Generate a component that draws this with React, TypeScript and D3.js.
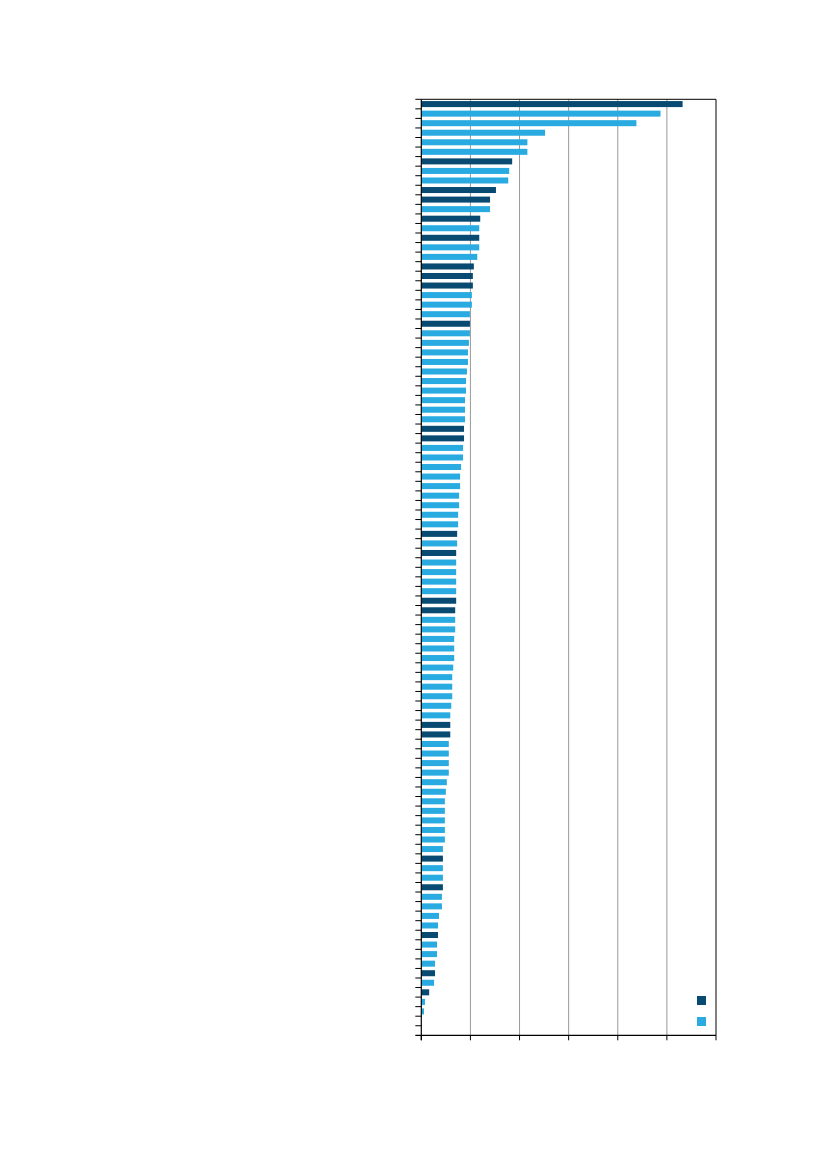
import * as d3 from "d3";

// series: "a" = dark blue, "b" = light blue, "" = empty slot
const SERIES: string[] = [
  "a", "b", "b", "b", "b", "b", "a", "b", "b", "a",
  "a", "b", "a", "b", "a", "b", "b", "a", "a", "a",
  "b", "b", "b", "a", "b", "b", "b", "b", "b", "b",
  "b", "b", "b", "b", "a", "a", "b", "b", "b", "b",
  "b", "b", "b", "b", "b", "a", "b", "a", "b", "b",
  "b", "b", "a", "a", "b", "b", "b", "b", "b", "b",
  "b", "b", "b", "b", "b", "a", "a", "b", "b", "b",
  "b", "b", "b", "b", "b", "b", "b", "b", "b", "a",
  "b", "b", "a", "b", "b", "b", "b", "a", "b", "b",
  "b", "a", "b", "a", "b", "b", "", "",
];

const VALUES: number[] = [
  5.32, 4.87, 4.38, 2.52, 2.16, 2.16, 1.85, 1.79, 1.77, 1.52,
  1.40, 1.40, 1.20, 1.18, 1.18, 1.18, 1.14, 1.07, 1.05, 1.05,
  1.03, 1.03, 0.99, 0.99, 0.99, 0.97, 0.95, 0.95, 0.93, 0.91,
  0.91, 0.89, 0.89, 0.89, 0.87, 0.87, 0.85, 0.85, 0.81, 0.79,
  0.79, 0.77, 0.77, 0.75, 0.75, 0.73, 0.73, 0.71, 0.71, 0.71,
  0.71, 0.71, 0.71, 0.69, 0.69, 0.69, 0.67, 0.67, 0.67, 0.65,
  0.63, 0.63, 0.63, 0.61, 0.59, 0.59, 0.59, 0.56, 0.56, 0.56,
  0.56, 0.52, 0.50, 0.48, 0.48, 0.48, 0.48, 0.48, 0.44, 0.44,
  0.44, 0.44, 0.44, 0.42, 0.42, 0.36, 0.34, 0.34, 0.32, 0.32,
  0.28, 0.28, 0.26, 0.16, 0.075, 0.055, 0, 0,
];

const X_TICKS = [0, 1, 2, 3, 4, 5, 6];
const LEGEND = ["a", "b"];

const COLORS: Record<string, string> = { a: "#084a72", b: "#29abe2" };

const W = 826;
const H = 1169;
const M = { left: 421.3, right: 716, top: 99.3, bottom: 1035.3 };

export default function App() {
  const idx = VALUES.map((_, i) => i);
  const x = d3.scaleLinear().domain([0, 6]).range([M.left, M.right]);
  const y = d3.scaleBand<number>().domain(idx).range([M.top, M.bottom]).paddingInner(0.37).paddingOuter(0.185);
  const step = y.step();

  return (
    <svg
      width={W}
      height={H}
      style={{ position: "absolute", left: 0, top: 0, background: "#fff" }}
    >
      {/* gridlines */}
      {X_TICKS.slice(1, -1).map((t) => (
        <line key={t} x1={x(t)} x2={x(t)} y1={M.top} y2={M.bottom} stroke="#999" strokeWidth={1} />
      ))}

      {/* bars */}
      {idx.map((i) =>
        SERIES[i] ? (
          <rect
            key={i}
            x={x(0)}
            y={y(i)!}
            width={x(VALUES[i]) - x(0)}
            height={y.bandwidth()}
            fill={COLORS[SERIES[i]]}
          />
        ) : null
      )}

      {/* frame */}
      <line x1={M.left} x2={M.right} y1={M.top} y2={M.top} stroke="#000" strokeWidth={1} />
      <line x1={M.right} x2={M.right} y1={M.top} y2={M.bottom} stroke="#000" strokeWidth={1} />
      <line x1={M.left} x2={M.left} y1={M.top} y2={M.bottom + 5} stroke="#000" strokeWidth={1.2} />
      <line x1={M.left - 6} x2={M.right} y1={M.bottom} y2={M.bottom} stroke="#000" strokeWidth={1.2} />

      {/* y ticks at category boundaries */}
      {idx.map((i) => (
        <line
          key={i}
          x1={M.left - 6}
          x2={M.left}
          y1={M.top + i * step}
          y2={M.top + i * step}
          stroke="#000"
          strokeWidth={1}
        />
      ))}

      {/* x ticks */}
      {X_TICKS.map((t) => (
        <line key={t} x1={x(t)} x2={x(t)} y1={M.bottom} y2={M.bottom + 5} stroke="#000" strokeWidth={1} />
      ))}

      {/* legend swatches */}
      {LEGEND.map((s, i) => (
        <rect key={s} x={697} y={996 + i * 21} width={9} height={9} fill={COLORS[s]} />
      ))}
    </svg>
  );
}
